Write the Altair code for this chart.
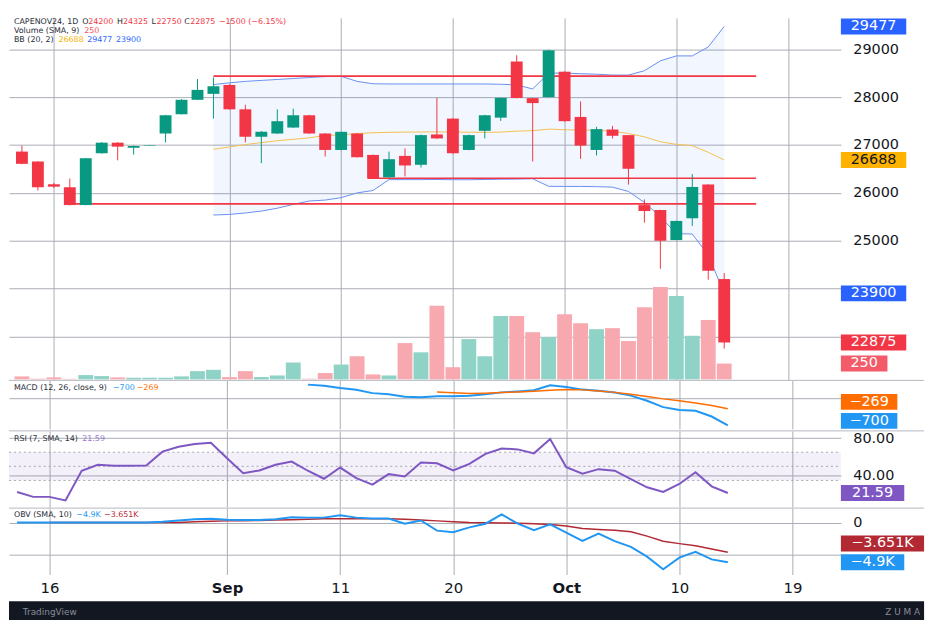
import json
import altair as alt
import pandas as pd

# daily bars, index 0 = first visible session (two sessions before the "16" tick)
opens = [26863, 26656, 26180, 26118, 25746, 26828, 27049, 26945, 26990, 27241,
         27643, 27945, 28069, 28255, 27746, 27173, 27241, 27365, 27622, 27241,
         26897, 27241, 26793, 26325, 26773, 26587, 27221, 27552, 26897, 27297,
         27572, 28745, 27980, 28000, 28532, 27587, 26897, 27324, 27207, 25745,
         25642, 25014, 25470, 26173, 24200]
highs = [26987, 26660, 26207, 26300, 26730, 27060, 27060, 26990, 27000, 27630,
         27960, 28379, 28414, 28270, 27841, 27290, 27746, 27759, 27630, 27250,
         27280, 27250, 26800, 26863, 26931, 27220, 27986, 27560, 27220, 27630,
         27990, 28876, 27990, 28990, 28540, 27910, 27380, 27400, 27210, 25863,
         25650, 25420, 26393, 26180, 24325]
lows = [26600, 26050, 26100, 25740, 25740, 26820, 26680, 26800, 26985, 27055,
        27640, 27940, 27552, 27740, 27055, 26621, 27230, 27360, 27235, 26759,
        26890, 26740, 26290, 26320, 26345, 26531, 27130, 26820, 26890, 27138,
        27504, 27975, 26656, 27995, 27490, 26711, 26780, 27138, 26173, 25379,
        24415, 25010, 25310, 24187, 22750]
closes = [26607, 26118, 26130, 25746, 26724, 27049, 26966, 26980, 27000, 27622,
          27945, 28152, 28228, 27746, 27173, 27276, 27498, 27622, 27241, 26897,
          27276, 26745, 26297, 26704, 26573, 27207, 27138, 26828, 27207, 27622,
          27986, 27980, 27876, 28979, 27498, 26988, 27332, 27193, 26504, 25621,
          25000, 25414, 26124, 24375, 22875]
volume = [47, 8, 31, 8, 68, 52, 31, 26, 26, 26,
          47, 130, 151, 36, 130, 36, 62, 266, 10, 100,
          234, 365, 78, 62, 573, 427, 1160, 192, 636, 365,
          1000, 1000, 745, 667, 1027, 886, 792, 808, 605, 1136,
          1458, 1317, 688, 938, 250]

# Bollinger Bands (20, 2), from bar 12
bb_start = 12
bb_upper = [28263, 28300, 28330, 28350, 28370, 28390, 28410, 28430, 28435, 28330,
            28280, 28276, 28276, 28276, 28276, 28276, 28276, 28276, 28270, 28255,
            28172, 28503, 28503, 28490, 28480, 28462, 28462, 28552, 28759, 28862,
            28862, 29050, 29477]
bb_basis = [26910, 26960, 27010, 27050, 27090, 27120, 27150, 27200, 27210, 27240,
            27256, 27265, 27270, 27272, 27275, 27270, 27268, 27265, 27270, 27290,
            27300, 27332, 27320, 27310, 27310, 27290, 27240, 27172, 27069, 27014,
            26986, 26848, 26688]
bb_lower = [25538, 25550, 25580, 25620, 25680, 25760, 25830, 25850, 25900, 26000,
            26050, 26277, 26277, 26277, 26280, 26275, 26275, 26280, 26285, 26288,
            26295, 26138, 26135, 26135, 26130, 26120, 26030, 25800, 25500, 25150,
            25140, 24700, 23900]

# MACD (12, 26, close, 9)
macd_start = 18
macd_line = [362, 330, 274, 230, 140, 110, 45, 30, 59, 59,
             70, 110, 160, 185, 214, 344, 300, 232, 200, 155,
             75, -60, -225, -300, -320, -470, -700]
signal_start = 26
signal_line = [170, 150, 129, 140, 155, 170, 190, 215, 232, 225,
               196, 160, 110, 50, -10, -60, -120, -180, -269]

# RSI (7)
rsi = [22.7, 17.5, 17.5, 13.7, 45.3, 51.6, 50.5, 50.5, 50.9, 65.6,
       70.8, 73.7, 75.0, 58.5, 42.7, 45.6, 51.6, 55.0, 45.3, 36.8,
       48.7, 37.5, 30.5, 41.7, 39.3, 54.0, 53.3, 45.6, 52.6, 63.2,
       69.0, 68.0, 63.8, 79.0, 49.0, 42.1, 47.0, 45.3, 36.4, 27.7,
       22.7, 31.2, 43.8, 28.7, 21.59]
rsi_levels = [65, 50, 35]

# OBV in thousands, and its SMA 10
obv = [0, 0, 0, 0, 0, 0, 0, 0, 0, 0.1,
       0.25, 0.4, 0.45, 0.35, 0.3, 0.3, 0.4, 0.65, 0.6, 0.6,
       0.88, 0.6, 0.5, 0.5, -0.15, 0.25, -1.0, -1.2, -0.6, -0.15,
       1.0, -0.15, -0.95, -0.22, -1.24, -2.26, -1.37, -2.3, -3.0, -4.2,
       -5.76, -4.33, -3.6, -4.54, -4.9]
obv_sma_start = 2
obv_sma = [0, 0, 0, 0, 0, 0, 0, 0, 0, 0.1,
           0.15, 0.2, 0.2, 0.25, 0.3, 0.35, 0.4, 0.45, 0.46, 0.46,
           0.46, 0.46, 0.4, 0.3, 0.2, 0.1, 0.0, -0.02, -0.05, -0.1,
           -0.15, -0.25, -0.43, -0.75, -0.85, -0.95, -1.15, -1.68, -2.3, -2.6,
           -2.87, -3.27, -3.651]

# hand-drawn horizontal levels (price, from bar, to bar)
level_price = [28440, 26305, 25770]
level_from = [12, 21.7, 3]
level_to = [46, 46, 46]

tick_pos = [2, 13, 20, 27, 34, 41, 48]
tick_lbl = ["16", "Sep", "11", "20", "Oct", "10", "19"]

FONT = "DejaVu Sans"
INK = "#131722"
GRID = "#a9acb4"
SEP = "#b4b7bf"
GREEN = "#089981"
RED = "#F23645"
VGREEN = "#8fd3c6"
VRED = "#f8a9b0"
W = 840


def minus(s):
    return str(s).replace("-", "\u2212")


def xdef(field="i", labels=False):
    ax = dict(values=tick_pos, grid=True, gridColor=GRID, domain=False,
              ticks=False, labels=labels, title=None)
    if labels:
        months = [p for p, l in zip(tick_pos, tick_lbl) if l.isalpha()]
        ax.update(
            labelExpr="{}[indexof({}, datum.value)]".format(json.dumps(tick_lbl), json.dumps(tick_pos)),
            labelFontSize=15, labelColor=INK, labelPadding=6,
            labelFontWeight={"condition": {"test": "indexof({}, datum.value) >= 0".format(json.dumps(months)),
                                           "value": "bold"}, "value": "normal"},
            minExtent=27, maxExtent=27)
    else:
        ax.update(minExtent=0, maxExtent=0)
    return alt.X(f"{field}:Q", scale=alt.Scale(domain=[-0.5, 51], nice=False, zero=False),
                 axis=alt.Axis(**ax))


def yfactory(domain, **kw):
    axis = alt.Axis(orient="right", grid=True, gridColor=GRID, domain=False, ticks=False,
                    title=None, labelFontSize=14.5, labelColor=INK, labelPadding=12, **kw)
    scale = alt.Scale(domain=domain, nice=False, zero=False)

    def y(field):
        return alt.Y(f"{field}:Q", scale=scale, axis=axis)
    return y


one = pd.DataFrame({"k": [0]})


def tag(text, x, y, color, size=8):
    return alt.Chart(one).mark_text(text=text, align="left", baseline="middle", font=FONT,
                                    fontSize=size, color=color).encode(x=alt.value(x), y=alt.value(y))


def badge(value, label, ydef, bg, fg="white", width=66, shift=0):
    d = pd.DataFrame({"v": [value]})
    box = alt.Chart(d).mark_rule(color=bg, strokeWidth=16, strokeCap="butt", yOffset=shift).encode(
        x=alt.value(W), x2=alt.value(W + width), y=ydef("v"))
    txt = alt.Chart(d).mark_text(text=label, color=fg, font=FONT, fontSize=14.5, align="center",
                                 baseline="middle", yOffset=shift).encode(
        x=alt.value(W + width / 2), y=ydef("v"))
    return [box, txt]


def separator():
    return alt.Chart(one).mark_rule(color=SEP, strokeWidth=1).encode(
        x=alt.value(0), x2=alt.value(W + 84), y=alt.value(0))


bars = pd.DataFrame({"i": range(len(opens)), "open": opens, "high": highs, "low": lows,
                     "close": closes, "vol": volume})
up_test = "datum.close >= datum.open"
cond = alt.condition(up_test, alt.value(GREEN), alt.value(RED))
vcond = alt.condition(up_test, alt.value(VGREEN), alt.value(VRED))

# ---------------- price pane ----------------
# 23000 / 24000 keep their grid lines but their labels sit under the badges
py = yfactory([22104, 29656], values=[23000, 24000, 25000, 26000, 27000, 28000, 29000],
              format="d", labelExpr="datum.value < 25000 ? '' : datum.label")
vscale = alt.Scale(domain=[0, 5703], nice=False, zero=True)


def vy(field):
    return alt.Y(f"{field}:Q", scale=vscale, axis=None)


vol_layer = alt.layer(
    alt.Chart(bars).mark_bar(size=15).encode(x=xdef(), y=vy("vol"), color=vcond),
    *badge(volume[-1], str(volume[-1]), vy, "#F45B69", width=47),
)

bb = pd.DataFrame({"i": range(bb_start, bb_start + len(bb_upper)),
                   "up": bb_upper, "mid": bb_basis, "lo": bb_lower})
lv = pd.DataFrame({"a": level_from, "b": level_to, "p": level_price})

chg = closes[-1] - closes[-2]
pct = chg / closes[-2] * 100
red_val = "#F23645"
header = [
    tag("CAPENOV24, 1D", 5, 4.5, "#2a2e39"),
    tag("O", 74, 4.5, "#2a2e39"), tag(str(opens[-1]), 80, 4.5, red_val),
    tag("H", 109, 4.5, "#2a2e39"), tag(str(highs[-1]), 115, 4.5, red_val),
    tag("L", 144, 4.5, "#2a2e39"), tag(str(lows[-1]), 149, 4.5, red_val),
    tag("C", 177, 4.5, "#2a2e39"), tag(str(closes[-1]), 183, 4.5, red_val),
    tag(minus(f"{chg} ({pct:.2f}%)"), 212, 4.5, red_val),
    tag("Volume (SMA, 9)", 5, 13.5, "#2a2e39"), tag(str(volume[-1]), 76, 13.5, "#F7525F"),
    tag("BB (20, 2)", 5, 22.5, "#2a2e39"), tag(str(bb_basis[-1]), 50, 22.5, "#F5B400"),
    tag(str(bb_upper[-1]), 79, 22.5, "#2962FF"), tag(str(bb_lower[-1]), 108, 22.5, "#2962FF"),
]

price_layer = alt.layer(
    alt.Chart(bb).mark_area(color="#2962FF", opacity=0.06).encode(x=xdef(), y=py("up"), y2="lo"),
    alt.Chart(bb).mark_line(color="#6a8ff0", strokeWidth=1).encode(x=xdef(), y=py("up")),
    alt.Chart(bb).mark_line(color="#6a8ff0", strokeWidth=1).encode(x=xdef(), y=py("lo")),
    alt.Chart(bb).mark_line(color="#f3c04f", strokeWidth=1).encode(x=xdef(), y=py("mid")),
    alt.Chart(lv).mark_rule(color=RED, strokeWidth=1.6).encode(x=xdef("a"), x2="b", y=py("p")),
    alt.Chart(bars).mark_rule(strokeWidth=1).encode(x=xdef(), y=py("low"), y2="high", color=cond),
    alt.Chart(bars).mark_bar(size=12).encode(x=xdef(), y=py("open"), y2="close", color=cond),
    *header,
    *badge(bb_upper[-1], str(bb_upper[-1]), py, "#2962FF"),
    *badge(bb_basis[-1], str(bb_basis[-1]), py, "#FFB300", fg=INK),
    *badge(bb_lower[-1], str(bb_lower[-1]), py, "#2962FF"),
    *badge(closes[-1], str(closes[-1]), py, RED),
)

price_panel = alt.layer(vol_layer, price_layer).resolve_scale(y="independent").properties(
    width=W, height=365)

# ---------------- MACD pane ----------------
my = yfactory([-793, 473], values=[0], labels=False)
mdf = pd.DataFrame({"i": range(macd_start, macd_start + len(macd_line)), "m": macd_line})
sdf = pd.DataFrame({"i": range(signal_start, signal_start + len(signal_line)), "s": signal_line})
macd_panel = alt.layer(
    separator(),
    alt.Chart(mdf).mark_line(color="#2196F3", strokeWidth=2).encode(x=xdef(), y=my("m")),
    alt.Chart(sdf).mark_line(color="#FF6D00", strokeWidth=1.5).encode(x=xdef(), y=my("s")),
    tag("MACD (12, 26, close, 9)", 5, 7.7, "#2a2e39"),
    tag(minus(macd_line[-1]), 105, 7.7, "#2196F3"),
    tag(minus(signal_line[-1]), 129, 7.7, "#FF6D00"),
    *badge(signal_line[-1], minus(signal_line[-1]), my, "#FF6D00", width=57, shift=-7),
    *badge(macd_line[-1], minus(macd_line[-1]), my, "#2196F3", width=57, shift=-4.5),
).properties(width=W, height=49)

# ---------------- RSI pane ----------------
ry = yfactory([6.6, 87.7], values=[40, 80], format=".2f")
rdf = pd.DataFrame({"i": range(len(rsi)), "r": rsi})
band = pd.DataFrame({"hi": [rsi_levels[0]], "lo": [rsi_levels[-1]]})
lvl = pd.DataFrame({"r": rsi_levels})
rsi_panel = alt.layer(
    separator(),
    alt.Chart(band).mark_rect(color="#7E57C2", opacity=0.09).encode(
        x=alt.value(0), x2=alt.value(W), y=ry("hi"), y2="lo"),
    alt.Chart(lvl).mark_rule(color="#a3a6ae", strokeDash=[2, 3], strokeWidth=1).encode(
        x=alt.value(0), x2=alt.value(W), y=ry("r")),
    alt.Chart(rdf).mark_line(color="#7E57C2", strokeWidth=2).encode(x=xdef(), y=ry("r")),
    tag("RSI (7, SMA, 14)", 5, 8.7, "#2a2e39"),
    tag(f"{rsi[-1]:.2f}", 74, 8.7, "#9575CD"),
    *badge(rsi[-1], f"{rsi[-1]:.2f}", ry, "#7E57C2", width=64),
).properties(width=W, height=77)

# ---------------- OBV pane ----------------
oy = yfactory([-6.40, 1.77], values=[0, -4], labelExpr="datum.value == 0 ? '0' : ''")
odf = pd.DataFrame({"i": range(len(obv)), "o": obv})
osdf = pd.DataFrame({"i": range(obv_sma_start, obv_sma_start + len(obv_sma)), "s": obv_sma})
obv_panel = alt.layer(
    separator(),
    alt.Chart(osdf).mark_line(color="#B22833", strokeWidth=1.5).encode(x=xdef(labels=True), y=oy("s")),
    alt.Chart(odf).mark_line(color="#2196F3", strokeWidth=2).encode(x=xdef(labels=True), y=oy("o")),
    tag("OBV (SMA, 10)", 5, 7, "#2a2e39"),
    tag(minus(f"{obv[-1]:.1f}K"), 68, 7, "#2196F3"),
    tag(minus(f"{obv_sma[-1]:.3f}K"), 96, 7, "#B22833"),
    *badge(obv_sma[-1], minus(f"{obv_sma[-1]:.3f}K"), oy, "#B22833", width=84, shift=-8.7),
    *badge(obv[-1], minus(f"{obv[-1]:.1f}K"), oy, "#2196F3", width=64),
).properties(width=W, height=67)

# ---------------- footer strip ----------------
strip = alt.layer(
    alt.Chart(one).mark_rect(color="#131722").encode(
        x=alt.value(0), x2=alt.value(W + 84), y=alt.value(0), y2=alt.value(19)),
    alt.Chart(one).mark_text(text="TradingView", align="left", baseline="middle", font=FONT,
                             fontSize=9, color="#8a8e99").encode(x=alt.value(14), y=alt.value(11)),
    alt.Chart(one).mark_text(text="Z U M A", align="right", baseline="middle", font=FONT,
                             fontSize=9, color="#8a8e99").encode(x=alt.value(W + 80), y=alt.value(11)),
).properties(width=W + 84, height=19)

chart = alt.vconcat(price_panel, macd_panel, rsi_panel, obv_panel, strip, spacing=0).properties(
    padding={"left": 0, "top": 7, "right": 0, "bottom": 0}, background="white"
).configure_view(strokeWidth=0).configure_axis(labelFont=FONT)

chart.save("out.html", embed_options={"renderer": "svg", "actions": False})
